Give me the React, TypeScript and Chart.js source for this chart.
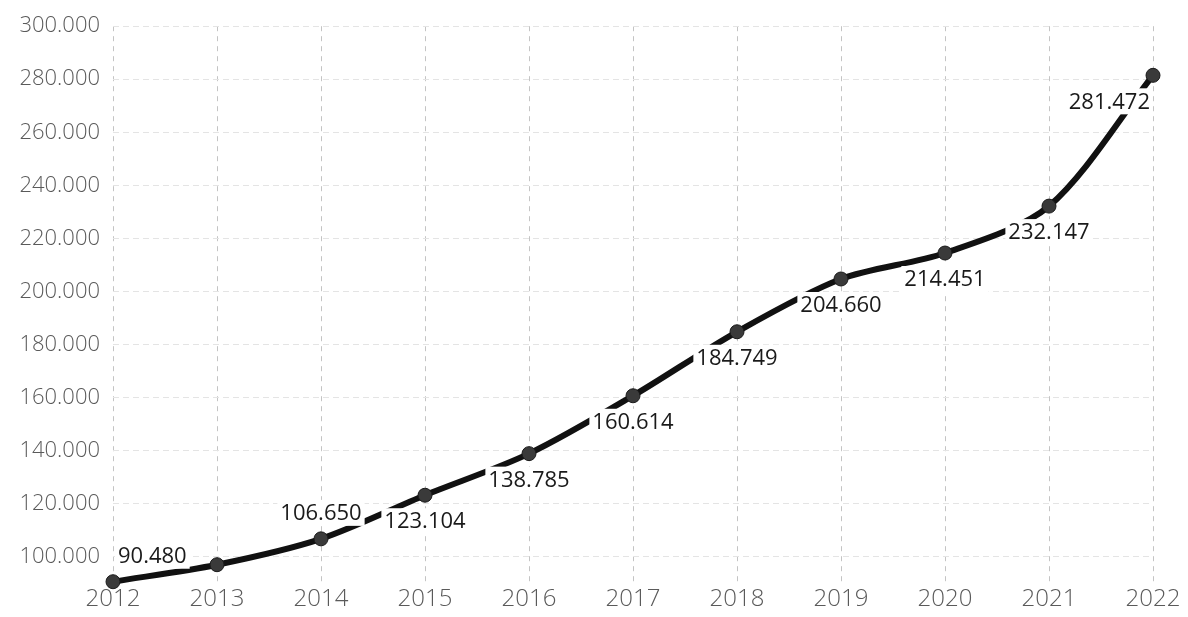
import React, { useEffect, useRef } from "react";
import { Chart, registerables } from "chart.js";

Chart.register(...registerables);

const years = ["2012", "2013", "2014", "2015", "2016", "2017", "2018", "2019", "2020", "2021", "2022"];
const values = [90.48, 96.9, 106.65, 123.104, 138.785, 160.614, 184.749, 204.66, 214.451, 232.147, 281.472];
const valueLabels = ["90.480", "", "106.650", "123.104", "138.785", "160.614", "184.749", "204.660", "214.451", "232.147", "281.472"];
const labelSide = ["above", "none", "above", "below", "below", "below", "below", "below", "below", "below", "below"];

const fmt = (v: number) => v.toFixed(3);

const labelPlugin = {
  id: "valueLabels",
  afterDatasetsDraw(chart: any) {
    const ctx = chart.ctx;
    const meta = chart.getDatasetMeta(0);
    const area = chart.chartArea;
    ctx.save();
    ctx.font = "400 22px 'Open Sans'";
    ctx.textAlign = "center";
    ctx.textBaseline = "middle";
    meta.data.forEach((pt: any, i: number) => {
      const text = valueLabels[i];
      const side = labelSide[i];
      if (!text || side === "none") return;
      const w = ctx.measureText(text).width;
      let x = pt.x;
      let y = side === "above" ? pt.y - 26 : pt.y + 26;
      const pad = 3;
      if (x - w / 2 - pad < area.left) x = area.left + w / 2 + pad + 2;
      if (x + w / 2 + pad > area.right) x = area.right - w / 2 - pad;
      ctx.fillStyle = "#ffffff";
      ctx.fillRect(x - w / 2 - pad, y - 13, w + pad * 2, 26);
      ctx.fillStyle = "#1a1a1a";
      ctx.fillText(text, x, y + 1);
    });
    ctx.restore();
  },
};

export default function App() {
  const ref = useRef<HTMLCanvasElement | null>(null);
  useEffect(() => {
    document.body.style.margin = "0";
    const chart = new Chart(ref.current as HTMLCanvasElement, {
      type: "line",
      data: {
        labels: years,
        datasets: [
          {
            data: values,
            borderColor: "#111111",
            borderWidth: 6,
            tension: 0.3,
            pointRadius: 7,
            pointBackgroundColor: "#3a3a3a",
            pointBorderColor: "#1a1a1a",
            pointBorderWidth: 1,
            clip: false as any,
          },
        ],
      },
      options: {
        animation: false,
        responsive: false,
        maintainAspectRatio: false,
        layout: { padding: { top: 22, right: 35, left: 0, bottom: 0 } },
        plugins: { legend: { display: false }, tooltip: { enabled: false } },
        scales: {
          x: {
            offset: false,
            border: { display: false },
            grid: { color: "#c4c4c4", drawTicks: false, lineWidth: 1 },
            ticks: { color: "#5a5a5a", font: { family: "'Open Sans'", size: 24, weight: 300 as any }, padding: 2, maxRotation: 0 },
            afterFit: (s: any) => {
              s.height = 34;
            },
          },
          y: {
            min: 90,
            max: 300,
            border: { display: false },
            grid: { color: "#e4e4e4", drawTicks: false, lineWidth: 1 },
            ticks: {
              stepSize: 20,
              color: "#5a5a5a",
              font: { family: "'Open Sans'", size: 22, weight: 300 as any },
              padding: 13,
              callback: (v: any) => fmt(Number(v)),
            },
            afterBuildTicks: (s: any) => {
              s.ticks = s.ticks.filter((t: any) => t.value >= 100);
            },
            afterFit: (s: any) => {
              s.width = 113;
            },
          },
        },
      },
      plugins: [labelPlugin],
    });
    const xs: any = chart.options.scales!.x;
    const ys: any = chart.options.scales!.y;
    xs.border.dash = [5, 5];
    ys.border.dash = [6, 4];
    chart.update();
    return () => chart.destroy();
  }, []);
  return (
    <div style={{ width: 1188, height: 617, background: "#fff" }}>
      <canvas ref={ref} width={1188} height={617} style={{ display: "block" }} />
    </div>
  );
}
